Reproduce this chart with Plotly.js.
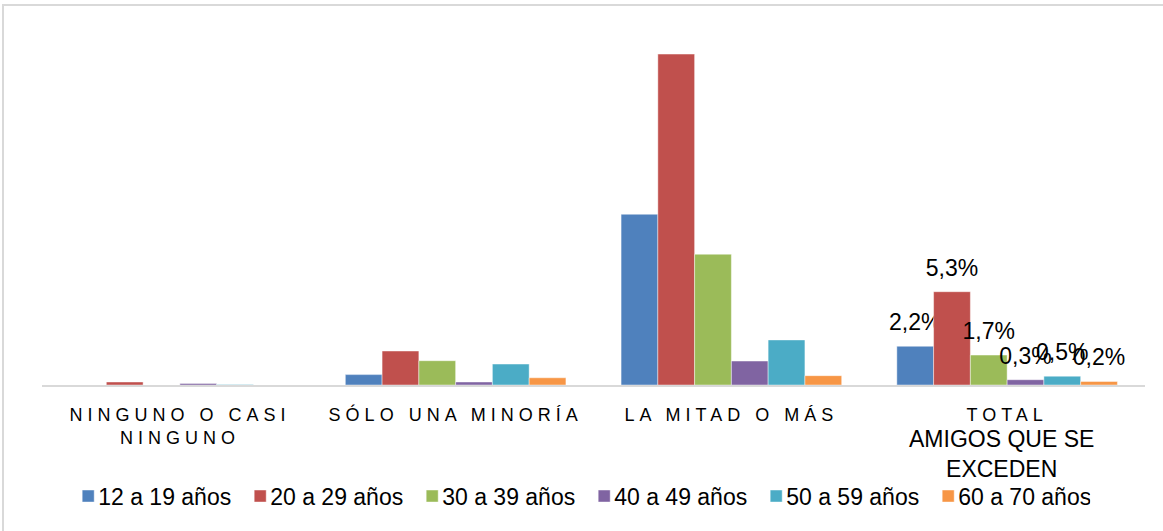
<!DOCTYPE html>
<html>
<head>
<meta charset="utf-8">
<script src="https://cdn.plot.ly/plotly-3.0.1.min.js"></script>
<style>
  html, body { margin: 0; padding: 0; background: #ffffff; }
  #wrap { position: relative; width: 1163px; height: 531px; overflow: hidden; }
  #frame { position: absolute; left: 2px; top: 4px; width: 2000px; height: 2000px;
           border-left: 2px solid #d9d9d9; border-top: 2px solid #d9d9d9; pointer-events: none; }
  #chart { position: absolute; left: 0; top: 0; width: 1163px; height: 531px; }
  .xtick text { letter-spacing: 5px; }
  .legend .legendpoints path { translate: 10px 0; }
</style>
</head>
<body>
<div id="wrap">
  <div id="chart"></div>
  <div id="frame"></div>
</div>
<script>
// Categories (x axis)
const categories = ["NINGUNO O CASI<br>NINGUNO", "SÓLO UNA MINORÍA", "LA MITAD O MÁS", "TOTAL"];
const extraLabel = "AMIGOS QUE SE<br>EXCEDEN";

// Series names
const seriesNames = ["12 a 19 años", "20 a 29 años", "30 a 39 años", "40 a 49 años", "50 a 59 años", "60 a 70 años"];

// Values (%) per series, in category order
const v12a19 = [0.0, 0.59, 9.7, 2.2];
const v20a29 = [0.17, 1.93, 18.8, 5.3];
const v30a39 = [0.0, 1.38, 7.43, 1.7];
const v40a49 = [0.09, 0.17, 1.36, 0.3];
const v50a59 = [0.03, 1.19, 2.56, 0.5];
const v60a70 = [0.0, 0.41, 0.53, 0.2];
const seriesValues = [v12a19, v20a29, v30a39, v40a49, v50a59, v60a70];

const colors = ["#4F81BD", "#C0504D", "#9BBB59", "#8064A2", "#4BACC6", "#F79646"];

const labelCategory = "TOTAL";
function fmt(v) { return v.toFixed(1).replace(".", ",") + "%"; }

const traces = seriesNames.map((name, i) => ({
  type: "bar",
  name: name,
  x: categories,
  y: seriesValues[i],
  text: seriesValues[i].map((v, j) => categories[j] === labelCategory ? fmt(v) : ""),
  textposition: "outside",
  textfont: { family: "Liberation Sans, Arial, sans-serif", size: 23, color: "#000000" },
  constraintext: "none",
  cliponaxis: false,
  hoverinfo: "none",
  marker: { color: colors[i], line: { color: "rgba(255,255,255,0.55)", width: 0.8 } }
}));

const layout = {
  width: 1163,
  height: 531,
  margin: { l: 42, r: 18, t: 40, b: 146 },
  paper_bgcolor: "rgba(0,0,0,0)",
  plot_bgcolor: "rgba(0,0,0,0)",
  barmode: "group",
  bargap: 0.2,
  bargroupgap: 0,
  font: { family: "Liberation Sans, Arial, sans-serif", color: "#000000" },
  xaxis: {
    type: "category",
    showline: true,
    linecolor: "#d9d9d9",
    linewidth: 2,
    ticks: "",
    tickangle: 0,
    tickfont: { size: 18, color: "#000000" },
    ticklabelstandoff: 12,
    showgrid: false,
    zeroline: false,
    fixedrange: true
  },
  yaxis: {
    range: [0, 19.6],
    visible: false,
    showgrid: false,
    zeroline: false,
    fixedrange: true
  },
  showlegend: true,
  legend: {
    orientation: "h",
    x: 0.4825,
    xanchor: "center",
    y: -0.322,
    yanchor: "middle",
    entrywidth: 127,
    font: { size: 23, color: "#000000" },
    bgcolor: "rgba(0,0,0,0)",
    traceorder: "normal"
  },
  annotations: [{
    xref: "x", yref: "paper",
    x: categories[3], y: -0.2,
    xanchor: "center", yanchor: "middle",
    xshift: -6,
    text: extraLabel,
    showarrow: false,
    font: { size: 23, color: "#000000" }
  }]
};

Plotly.newPlot("chart", traces, layout, { displayModeBar: false, staticPlot: true }).then(gd => {
  // lift the value labels a little above the bars, as in the reference
  gd.querySelectorAll("text.bartext").forEach(t => {
    const tr = t.getAttribute("transform") || "";
    t.setAttribute("transform", "translate(0,-8) " + tr);
  });
});
</script>
</body>
</html>
